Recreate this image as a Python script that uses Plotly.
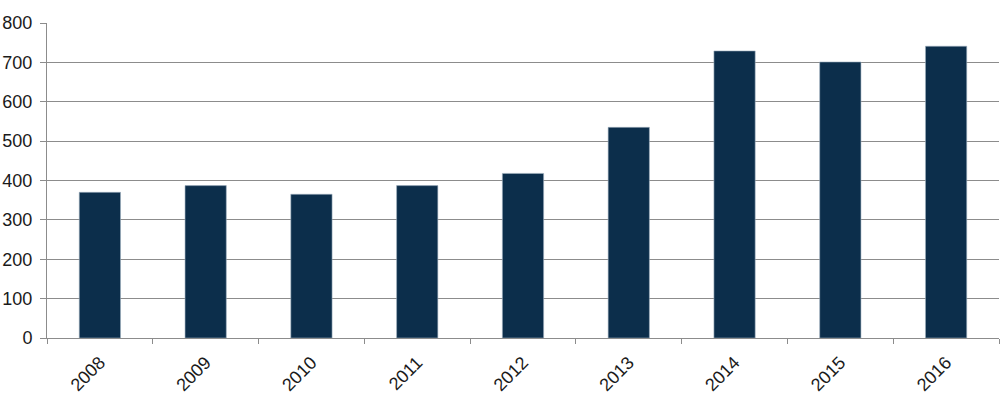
import plotly.graph_objects as go

# Values
years = ["2008", "2009", "2010", "2011", "2012", "2013", "2014", "2015", "2016"]
values = [370, 387, 365, 387, 418, 535, 729, 701, 741]
y_ticks = [0, 100, 200, 300, 400, 500, 600, 700, 800]

bar_color = "#0c2e4b"
grid_color = "#8c8c8c"
font = "Liberation Sans, Arial, sans-serif"

fig = go.Figure()

fig.add_trace(go.Bar(
    x=years,
    y=values,
    marker=dict(color=bar_color, line=dict(color="#9fb0c0", width=0.6)),
    width=0.39,
    hovertemplate="%{x}: %{y}<extra></extra>",
))

fig.update_layout(
    width=1000,
    height=410,
    margin=dict(l=47, r=1, t=23, b=72),
    paper_bgcolor="#ffffff",
    plot_bgcolor="#ffffff",
    showlegend=False,
    font=dict(family=font, size=18, color="#1a1a1a"),
    xaxis=dict(
        type="category",
        automargin=False,
        tickson="boundaries",
        ticks="outside",
        ticklen=5,
        tickcolor=grid_color,
        tickangle=-45,
        tickfont=dict(size=18, color="#1a1a1a"),
        ticklabelstandoff=6,
        showline=True,
        linecolor=grid_color,
        linewidth=1,
        showgrid=False,
        range=[-0.5, 8.5],
    ),
    yaxis=dict(
        range=[0, 800],
        automargin=False,
        tickvals=y_ticks,
        ticks="outside",
        ticklen=6,
        tickcolor=grid_color,
        tickfont=dict(size=18, color="#1a1a1a"),
        ticklabelstandoff=4,
        showline=True,
        linecolor=grid_color,
        linewidth=1,
        showgrid=True,
        gridcolor=grid_color,
        gridwidth=1,
        zeroline=False,
    ),
)

# drop the default page margin so the figure sits at the window's corner
fig.write_html(
    "out.html",
    config={"displayModeBar": False},
    post_script="document.body.style.margin='0';",
)
